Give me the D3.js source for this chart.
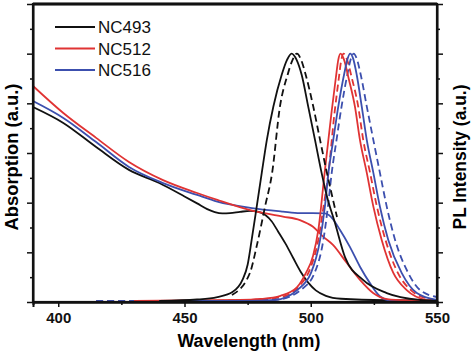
<!DOCTYPE html>
<html>
<head>
<meta charset="utf-8">
<script src="https://d3js.org/d3.v7.min.js"></script>
<style>
  body { margin: 0; background: #fff; }
  svg { display: block; font-family: 'Liberation Sans', Arial, sans-serif; }
  .tick-label { font-size: 15px; font-weight: bold; }
  .axis-label { font-size: 18px; font-weight: bold; }
  .legend-label { font-size: 17px; }
</style>
</head>
<body>
<svg width="474" height="353"></svg>
<script>
// Series names and colours for the legend
var seriesNames = ['NC493', 'NC512', 'NC516'];
var seriesColors = ['#111111', '#e03333', '#3c4fae'];

// Absorption spectra (solid), [wavelength nm, a.u.]
var absNC493 = [[390,0.785],[402,0.721],[415,0.624],[428,0.532],[440,0.479],[450,0.425],[455,0.397],[459,0.374],[462,0.362],[465,0.357],[468,0.358],[472,0.363],[476,0.367],[479,0.364],[482,0.35],[484.5,0.325],[487,0.285],[490,0.235],[493,0.178],[496,0.122],[499,0.078],[502,0.047],[506,0.025],[512,0.013],[530,0.007],[550,0.006]];
var absNC512 = [[390,0.870],[402,0.761],[415,0.661],[428,0.564],[441.5,0.491],[455,0.439],[463,0.411],[476,0.37],[489,0.344],[495.7,0.33],[500.9,0.303],[504.9,0.263],[508.8,0.23],[514,0.161],[519.5,0.089],[524.7,0.036],[530.2,0.012],[540,0.006],[550,0.004]];
var absNC516 = [[390,0.809],[402,0.741],[415,0.644],[428,0.544],[441.5,0.479],[455,0.431],[463,0.404],[476,0.379],[489,0.364],[495.7,0.358],[505.5,0.357],[508,0.343],[511.6,0.29],[515.5,0.222],[519.5,0.142],[523.5,0.075],[527.5,0.022],[531.4,0.006],[550,0.002]];

// PL spectra (solid)
var plNC493 = [[440,0.004],[455,0.01],[463,0.02],[469,0.04],[473,0.09],[475,0.15],[476.6,0.25],[478.6,0.384],[480.6,0.52],[482.6,0.652],[485.2,0.787],[488.5,0.915],[490.6,0.975],[492.4,1.0],[494.4,0.975],[496.4,0.915],[499,0.787],[501.7,0.652],[504.3,0.52],[506.3,0.43],[509.6,0.318],[513.6,0.18],[520.7,0.089],[530.1,0.036],[543.3,0.008],[550,0.004]];
var plNC512 = [[430,0.004],[472,0.008],[480,0.012],[488,0.025],[494.6,0.06],[498.1,0.117],[500.9,0.185],[503,0.29],[505.5,0.52],[508.2,0.761],[509.9,0.9],[510.9,0.975],[511.8,1.0],[513.2,0.975],[514.9,0.905],[517.5,0.787],[519.5,0.652],[522.2,0.52],[524.8,0.384],[528.1,0.25],[532.7,0.117],[538,0.048],[545.9,0.008],[550,0.004]];
var plNC516 = [[440,0.004],[476,0.004],[485.8,0.008],[494.6,0.048],[500.1,0.117],[503.7,0.25],[505.6,0.384],[507,0.52],[508.9,0.652],[510.9,0.787],[513.3,0.921],[514.6,0.98],[515.6,1.0],[516.8,0.98],[518.2,0.915],[520.2,0.787],[522.2,0.652],[524.8,0.52],[527.4,0.384],[530.7,0.25],[536,0.117],[542,0.036],[550,0.008]];

// PL spectra (dashed)
var plDashNC493 = [[468.8,0.028],[475.9,0.117],[478.7,0.23],[481.9,0.384],[484.7,0.52],[487.8,0.787],[490.8,0.914],[492.8,0.975],[494.5,1.0],[496.2,0.975],[498,0.915],[501,0.787],[503.7,0.652],[506.4,0.52],[508.4,0.43],[510.4,0.342]];
var plDashNC512 = [[415,0.004],[450,0.004],[480,0.01],[490,0.025],[496,0.07],[500,0.14],[503,0.25],[505,0.38],[507,0.52],[509.4,0.76],[511.1,0.9],[512.1,0.975],[513,1.0],[514.4,0.975],[516.2,0.905],[518.8,0.787],[520.8,0.652],[523.5,0.52],[526.2,0.384],[529.6,0.25],[534.5,0.117],[540,0.045],[547,0.012],[550,0.006]];
var plDashNC516 = [[415,0.004],[470,0.004],[487,0.01],[496,0.048],[501.5,0.117],[505,0.25],[506.8,0.384],[508.3,0.52],[510.2,0.652],[512.2,0.787],[514.6,0.921],[515.9,0.98],[517,1.0],[518.2,0.98],[519.8,0.915],[522.2,0.787],[524.8,0.652],[527.4,0.52],[530.1,0.384],[533.4,0.25],[538.6,0.117],[543.3,0.048],[550,0.02]];

// Axis ticks
var xMajorTicks = [400, 450, 500, 550];
var xMinorTicks = [425, 475, 525];
var yTicks = [0, 0.1, 0.2, 0.3, 0.4, 0.5, 0.6, 0.7, 0.8, 0.9, 1.0, 1.1, 1.2];

var svg = d3.select('svg');
var svgWidth = +svg.attr('width');
var svgHeight = +svg.attr('height');

var padding = {t: 4, r: 37, b: 51, l: 33};
var chartWidth = svgWidth - padding.l - padding.r;
var chartHeight = svgHeight - padding.t - padding.b;

// Scale a text's font size so that it spans the wanted width
function fitText(sel, width) {
    sel.each(function() {
        var len = this.getComputedTextLength();
        var size = parseFloat(window.getComputedStyle(this).fontSize);
        if (len > 0) d3.select(this).style('font-size', (size * width / len) + 'px');
    });
}

var xScale = d3.scaleLinear().domain([390, 550]).range([0, chartWidth]);
var yScale = d3.scaleLinear().domain([0, 1.2]).range([chartHeight, 0]);

var chartG = svg.append('g')
    .attr('transform', 'translate(' + [padding.l, padding.t] + ')');

var line = d3.line()
    .x(function(d) { return xScale(d[0]); })
    .y(function(d) { return yScale(d[1]); })
    .curve(d3.curveMonotoneX);

svg.append('clipPath').attr('id', 'plot-clip')
    .append('rect').attr('width', chartWidth).attr('height', chartHeight);

var linesG = chartG.append('g').attr('clip-path', 'url(#plot-clip)');

var series = [
    {data: absNC493, color: 0, dash: null},
    {data: absNC516, color: 2, dash: null},
    {data: absNC512, color: 1, dash: null},
    {data: plDashNC512, color: 1, dash: '7,4'},
    {data: plDashNC516, color: 2, dash: '7,4'},
    {data: plNC512, color: 1, dash: null},
    {data: plNC516, color: 2, dash: null},
    {data: plDashNC493, color: 0, dash: '7,4'},
    {data: plNC493, color: 0, dash: null}
];

linesG.selectAll('.series')
    .data(series)
    .enter()
    .append('path')
    .attr('class', 'series')
    .attr('fill', 'none')
    .attr('stroke', function(d) { return seriesColors[d.color]; })
    .attr('stroke-width', 1.8)
    .attr('stroke-dasharray', function(d) { return d.dash; })
    .attr('d', function(d) { return line(d.data); });

// Axes
var yMajor = function(d) { return Math.round(d * 10) % 2 === 0; };

var xAxisG = chartG.append('g')
    .attr('transform', 'translate(' + [0, chartHeight] + ')')
    .call(d3.axisBottom(xScale).tickValues(xMajorTicks).tickSize(5).tickPadding(5).tickFormat(d3.format('d')));
xAxisG.attr('font-size', null).attr('font-family', null);
xAxisG.selectAll('text').attr('class', 'tick-label').attr('fill', '#111');
fitText(xAxisG.selectAll('text'), 25);

chartG.append('g')
    .attr('transform', 'translate(' + [0, chartHeight] + ')')
    .call(d3.axisBottom(xScale).tickValues(xMinorTicks).tickSize(3).tickFormat(''));

chartG.append('g')
    .call(d3.axisLeft(yScale).tickValues(yTicks).tickSize(0).tickFormat(''))
    .selectAll('.tick').append('line')
    .attr('x2', function(d) { return yMajor(d) ? -6 : -3; });

chartG.append('g')
    .attr('transform', 'translate(' + [chartWidth, 0] + ')')
    .call(d3.axisRight(yScale).tickValues(yTicks).tickSize(0).tickFormat(''))
    .selectAll('.tick').append('line')
    .attr('x2', function(d) { return yMajor(d) ? 6 : 3; });

chartG.selectAll('.domain').attr('stroke', '#111').attr('stroke-width', 2);
chartG.selectAll('.tick line').attr('stroke', '#111').attr('stroke-width', 1.5);

// Frame
chartG.append('rect')
    .attr('width', chartWidth).attr('height', chartHeight)
    .attr('fill', 'none').attr('stroke', '#111').attr('stroke-width', 2.2);
chartG.append('line')
    .attr('x1', 0).attr('x2', chartWidth)
    .attr('stroke', '#111').attr('stroke-width', 3);

// Axis labels
svg.append('text')
    .attr('class', 'axis-label')
    .attr('text-anchor', 'middle')
    .attr('transform', 'translate(' + [padding.l + xScale(475.5), 347] + ')')
    .text('Wavelength (nm)')
    .call(fitText, 143);

svg.append('text')
    .attr('class', 'axis-label')
    .attr('text-anchor', 'middle')
    .attr('transform', 'translate(' + [18, 157] + ') rotate(-90)')
    .text('Absorption (a.u.)')
    .call(fitText, 147);

svg.append('text')
    .attr('class', 'axis-label')
    .attr('text-anchor', 'middle')
    .attr('transform', 'translate(' + [466, 157] + ') rotate(-90)')
    .text('PL Intensity (a.u.)')
    .call(fitText, 145);

// Legend
var legendG = svg.append('g').attr('transform', 'translate(55, 27)');
var legendItems = legendG.selectAll('.legend-item')
    .data(seriesNames)
    .enter()
    .append('g')
    .attr('class', 'legend-item')
    .attr('transform', function(d, i) { return 'translate(' + [0, i * 21.5] + ')'; });

legendItems.append('line')
    .attr('x1', 0).attr('x2', 40)
    .attr('stroke', function(d, i) { return seriesColors[i]; })
    .attr('stroke-width', 1.8);

legendItems.append('text')
    .attr('class', 'legend-label')
    .attr('x', 43)
    .attr('dy', '0.36em')
    .attr('fill', '#111')
    .text(function(d) { return d; })
    .call(fitText, 53);
</script>
</body>
</html>
